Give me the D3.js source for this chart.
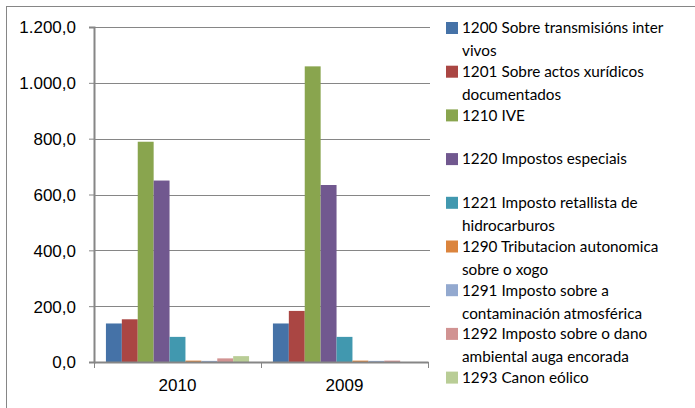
<!DOCTYPE html>
<meta charset="utf-8">
<script src="https://d3js.org/d3.v7.min.js"></script>
<style>
body { margin: 0; background: #fff; }
svg { font-family: Lato, "Open Sans", sans-serif; }
.axis text { font-size: 17px; fill: #000; }
.legend text { font-size: 15.3px; fill: #000; }
</style>
<body>
<div id="chart"></div>
<script>
var years = ["2010", "2009"];

var seriesLabels = [
  ["1200 Sobre transmisións inter", "vivos"],
  ["1201 Sobre actos xurídicos", "documentados"],
  ["1210 IVE"],
  ["1220 Impostos especiais"],
  ["1221 Imposto retallista de", "hidrocarburos"],
  ["1290 Tributacion autonomica", "sobre o xogo"],
  ["1291 Imposto sobre a", "contaminación atmosférica"],
  ["1292 Imposto sobre o dano", "ambiental auga encorada"],
  ["1293 Canon eólico"]
];

var seriesColours = ["#4572A7", "#AA4643", "#89A54E", "#71588F", "#4198AF",
                     "#DB843D", "#93A9CF", "#D19392", "#B9CD96"];

// one value per series, per year
var values2010 = [138, 153, 789, 650, 90, 5, 4, 13, 21];
var values2009 = [138, 183, 1059, 634, 90, 5, 4, 5, 0];

var yTicks = [0, 200, 400, 600, 800, 1000, 1200];

var width = 695, height = 408;
var plot = {left: 94, right: 428, top: 27, bottom: 362};

var svg = d3.select("#chart").append("svg")
  .attr("width", width)
  .attr("height", height);

// chart area border (runs off the right and bottom)
svg.append("rect")
  .attr("x", 6.5).attr("y", 6.5)
  .attr("width", 720).attr("height", 430)
  .attr("fill", "none")
  .attr("stroke", "#868686");

var x0 = d3.scaleBand()
  .domain(years)
  .range([plot.left, plot.right]);

var x1 = d3.scaleBand()
  .domain(d3.range(seriesLabels.length))
  .range([0, x0.bandwidth()])
  .paddingOuter(0.75)
  .paddingInner(0);

var y = d3.scaleLinear()
  .domain([0, 1200])
  .range([plot.bottom, plot.top]);

var fmt = function(v) {
  var s = d3.format(",.1f")(v);
  return s.replace(/,/g, "#").replace(".", ",").replace(/#/g, ".");
};

// gridlines
svg.append("g")
  .selectAll("line")
  .data(yTicks.slice(1))
  .enter().append("line")
  .attr("x1", plot.left).attr("x2", plot.right + 2)
  .attr("y1", function(d) { return Math.round(y(d)) + 0.5; })
  .attr("y2", function(d) { return Math.round(y(d)) + 0.5; })
  .attr("stroke", "#868686")
  .attr("stroke-width", 1);

// bars
var rows = years.map(function(yr, i) {
  return {year: yr, vals: i === 0 ? values2010 : values2009};
});

svg.append("g")
  .selectAll("g")
  .data(rows)
  .enter().append("g")
  .attr("transform", function(d) { return "translate(" + x0(d.year) + ",0)"; })
  .selectAll("rect")
  .data(function(d) { return d.vals.map(function(v, i) { return {i: i, v: v}; }); })
  .enter().append("rect")
  .attr("x", function(d) { return x1(d.i); })
  .attr("width", x1.bandwidth())
  .attr("y", function(d) { return y(d.v); })
  .attr("height", function(d) { return y(0) - y(d.v); })
  .attr("fill", function(d) { return seriesColours[d.i]; });

// y axis
var yAxis = svg.append("g")
  .attr("class", "axis")
  .attr("transform", "translate(" + plot.left + ",0)")
  .call(d3.axisLeft(y).tickValues(yTicks).tickFormat(fmt).tickSize(5).tickPadding(13));
yAxis.select(".domain").attr("stroke", "#868686").attr("stroke-width", 2);
yAxis.selectAll(".tick line").attr("stroke", "#868686").attr("stroke-width", 1);
yAxis.selectAll("text").attr("dy", "0.35em");

// x axis
var xAxis = svg.append("g")
  .attr("class", "axis")
  .attr("transform", "translate(0," + plot.bottom + ")")
  .call(d3.axisBottom(x0).tickSize(0).tickPadding(17));
xAxis.select(".domain").attr("stroke", "#868686").attr("stroke-width", 2);
xAxis.append("g")
  .selectAll("line")
  .data(d3.range(years.length + 1))
  .enter().append("line")
  .attr("x1", function(i) { return plot.left + i * x0.step() + 0.5; })
  .attr("x2", function(i) { return plot.left + i * x0.step() + 0.5; })
  .attr("y1", 0).attr("y2", 6)
  .attr("stroke", "#868686");

// legend
var legend = svg.append("g")
  .attr("class", "legend")
  .selectAll("g")
  .data(seriesLabels)
  .enter().append("g")
  .attr("transform", function(d, i) { return "translate(446," + (28 + i * 43.7) + ")"; });

legend.append("rect")
  .attr("x", 0).attr("y", -6)
  .attr("width", 12).attr("height", 12)
  .attr("fill", function(d, i) { return seriesColours[i]; });

legend.append("text")
  .selectAll("tspan")
  .data(function(d) { return d; })
  .enter().append("tspan")
  .attr("x", 16)
  .attr("y", function(d, j) { return j * 23; })
  .attr("dy", "0.35em")
  .text(function(d) { return d; });
</script>
</body>
